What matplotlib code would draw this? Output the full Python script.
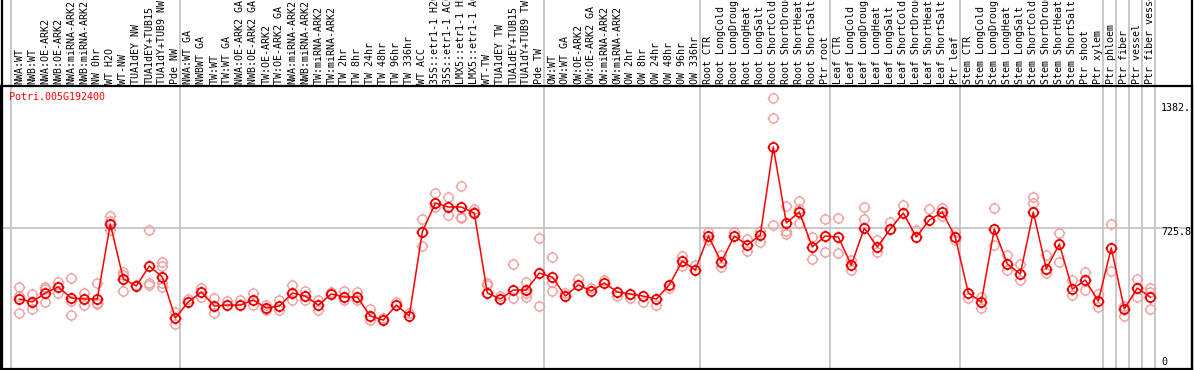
import numpy as np
import matplotlib
matplotlib.use("Agg")
import matplotlib.pyplot as plt
from matplotlib.path import Path
from matplotlib.transforms import blended_transform_factory

labels = [
    "NWA:WT", "NWB:WT", "NWA:OE-ARK2", "NWB:OE-ARK2", "NWA:miRNA-ARK2", "NWB:miRNA-ARK2",
    "NW 0hr", "WT H2O", "WT-NW", "TUA1dEY NW", "TUA1dEY+TUB15", "TUA1dY+TUB9 NW", "Pde NW",
    "NWA:WT GA", "NWBWT GA", "TW:WT", "TW:WT GA", "NWA:OE-ARK2 GA", "NWB:OE-ARK2 GA",
    "TW:OE-ARK2", "TW:OE-ARK2 GA", "NWA:miRNA-ARK2", "NWB:miRNA-ARK2", "TW:miRNA-ARK2",
    "TW:miRNA-ARK2", "TW 2hr", "TW 8hr", "TW 24hr", "TW 48hr", "TW 96hr", "TW 336hr",
    "WT ACC", "35S::etr1-1 H2O", "35S::etr1-1 ACC", "LMX5::etr1-1 H2O", "LMX5::etr1-1 ACC",
    "WT-TW", "TUA1dEY TW", "TUA1dEY+TUB15", "TUA1dY+TUB9 TW", "Pde TW",
    "OW:WT", "OW:WT GA", "OW:OE-ARK2", "OW:OE-ARK2 GA", "OW:miRNA-ARK2", "OW:miRNA-ARK2",
    "OW 2hr", "OW 8hr", "OW 24hr", "OW 48hr", "OW 96hr", "OW 336hr",
    "Root CTR", "Root LongCold", "Root LongDrought", "Root LongHeat", "Root LongSalt",
    "Root ShortCold", "Root ShortDrought", "Root ShortHeat", "Root ShortSalt", "Ptr root",
    "Leaf CTR", "Leaf LongCold", "Leaf LongDrought", "Leaf LongHeat", "Leaf LongSalt",
    "Leaf ShortCold", "Leaf ShortDrought", "Leaf ShortHeat", "Leaf ShortSalt", "Ptr leaf",
    "Stem CTR", "Stem LongCold", "Stem LongDrought", "Stem LongHeat", "Stem LongSalt",
    "Stem ShortCold", "Stem ShortDrought", "Stem ShortHeat", "Stem ShortSalt",
    "Ptr shoot", "Ptr xylem", "Ptr phloem", "Ptr fiber", "Ptr vessel", "Ptr fiber vessel",
]

means = [
    359, 344, 390, 421, 364, 359, 359, 744, 462, 426, 528, 472, 262,
    344, 395, 323, 328, 328, 354, 313, 323, 390, 374, 328, 385, 369, 369, 272, 251, 328, 272,
    703, 851, 831, 831, 800, 390, 359, 405, 405, 492,
    472, 374, 431, 400, 441, 395, 385, 374, 359, 431, 554, 508,
    682, 549, 682, 636, 687, 1139, 749, 805, 626, 682,
    677, 533, 723, 626, 718, 800, 677, 764, 805, 677,
    390, 344, 718, 539, 487, 805, 513, 641, 410, 456, 349,
    621, 308, 415, 369,
]

reps = [
    [421, 374, 287], [385, 308], [421, 344, 410], [446, 390], [467, 349, 277], [390, 328],
    [441, 339, 333], [785, 759, 713], [497, 482, 400], [431], [713, 441, 431],
    [549, 528, 441, 421], [292, 231],
    [359], [415, 369], [364, 287], [349], [354], [390, 328], [328, 303], [354, 303],
    [431, 354], [400, 354], [354, 303], [395], [400, 354], [395, 354], [308, 251], [262],
    [344], [287],
    [769, 631], [903, 831], [882, 790], [939, 780, 774], [821, 805], [441, 431], [374],
    [539, 364], [446, 369, 390], [672, 323],
    [574, 446, 400], [390], [462], [415], [456], [374], [364], [344], [328], [415],
    [580, 528], [533],
    [703, 662], [585, 523], [703], [667, 605], [708, 651], [1390, 1287, 739],
    [836, 708, 692], [862, 821, 749], [677, 564], [769, 600],
    [774, 595], [559, 508], [831, 769], [662, 600], [754], [841], [713], [821],
    [826, 785], [703, 662],
    [364], [369, 313], [826, 636], [585, 508], [539, 456], [882, 851], [585, 492],
    [698, 549], [456, 380], [497, 405], [318, 385],
    [744, 503], [323, 272], [462, 369], [415, 395, 308],
]

gene = "Potri.005G192400"
ytick_text = ["1382.", "725.8", "0"]
group_edges = [0, 13, 41, 53, 63, 73, 84, 85, 86, 87, 88]

W, H = 1194, 370
fig = plt.figure(figsize=(W / 100, H / 100), dpi=100)
ax = fig.add_axes([1 / W, 1 / H, 1191 / W, 283 / H])
ax.set_xlim((1 - 19.3) / 13, (1192 - 19.3) / 13)
ax.set_ylim(0, 1451.6)
ax.set_xticks([])
ax.set_yticks([])
for s in ax.spines.values():
    s.set_linewidth(1.6)
    s.set_color("black")

# marker: open circle with four short ticks
circ = Path.unit_circle()
ticks = Path(
    [(1, 0), (1.3, 0), (-1, 0), (-1.3, 0), (0, 1), (0, 1.3), (0, -1), (0, -1.3)],
    [Path.MOVETO, Path.LINETO] * 4,
)
mk = Path.make_compound_path(circ, ticks)

mono = "DejaVu Sans Mono"
x = np.arange(len(labels))

# grid lines
ax.axhline(725.8, color="#c0c0c0", lw=1.2, zorder=0)
for e in group_edges:
    ax.axvline(e - 0.66, ymin=0, ymax=H / 283, color="#c0c0c0", lw=1.2, clip_on=False, zorder=0)

# header labels
tr = blended_transform_factory(ax.transData, fig.transFigure)
for i, lab in enumerate(labels):
    ax.text(i, (H - 84) / H, lab, rotation=90, ha="center", va="bottom",
            family=mono, fontsize=7.2, transform=tr, clip_on=False)

# replicate points
for i, r in enumerate(reps):
    ax.plot([i] * len(r), r, linestyle="none", marker=mk, markersize=8.5,
            markerfacecolor="none", markeredgecolor="#f0a0a0", markeredgewidth=1.0, zorder=2)

# mean line
ax.plot(x, means, color="red", lw=1.1, marker=mk, markersize=8.5,
        markerfacecolor="none", markeredgecolor="#ee0000", markeredgewidth=1.3, zorder=3)

# outer frame of header
fig.add_artist(plt.Line2D([1.5 / W, 1.5 / W], [0, 1], color="black", lw=1.6))
fig.add_artist(plt.Line2D([1192 / W, 1192 / W], [0, 1], color="black", lw=1.6))

fig.text(9 / W, (H - 97) / H, gene, color="red", family=mono, fontsize=7.2, va="center")
for t, yp in zip(ytick_text, [108, 232, 362]):
    fig.text(1161 / W, (H - yp) / H, t, family=mono, fontsize=7.2, va="center")

fig.savefig("out.png", dpi=100)
